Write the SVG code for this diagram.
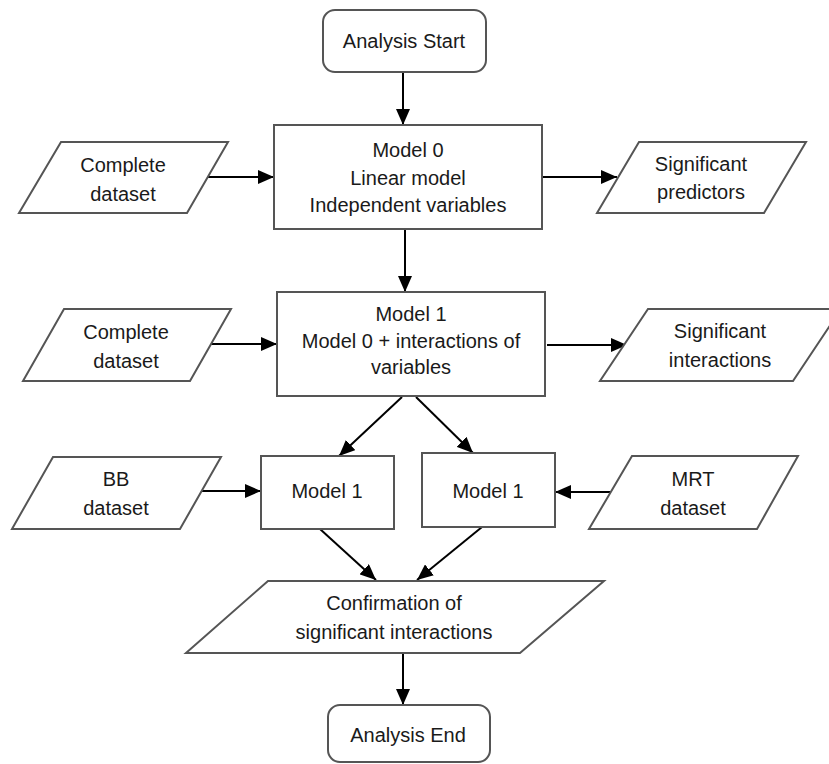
<svg xmlns="http://www.w3.org/2000/svg" width="829" height="764" viewBox="0 0 829 764">
<style>
.n{fill:#fff;stroke:#555;stroke-width:2}
.t{font-family:"Liberation Sans",Arial,sans-serif;font-size:20px;fill:#1a1a1a;text-anchor:middle}
.c{stroke:#000;stroke-width:2;fill:none;marker-end:url(#ah)}
</style>
<defs>
<marker id="ah" markerUnits="userSpaceOnUse" markerWidth="16" markerHeight="14" viewBox="0 0 16 14" refX="16" refY="7" orient="auto">
<path d="M0,0 L16,7 L0,14 Z" fill="#000"/>
</marker>
</defs>
<rect width="829" height="764" fill="#fff"/>
<g id="connectors">
<line class="c" x1="403" y1="72" x2="403" y2="125"/>
<line class="c" x1="405" y1="229" x2="405" y2="292"/>
<line class="c" x1="208" y1="177" x2="274" y2="177"/>
<line class="c" x1="542" y1="177" x2="617" y2="177"/>
<line class="c" x1="211" y1="344" x2="277" y2="344"/>
<line class="c" x1="547" y1="345" x2="627" y2="345"/>
<line class="c" x1="402" y1="397" x2="339" y2="456"/>
<line class="c" x1="416" y1="397" x2="473" y2="453"/>
<line class="c" x1="202" y1="491" x2="261" y2="491"/>
<line class="c" x1="611" y1="492" x2="555" y2="492"/>
<line class="c" x1="320" y1="529" x2="376" y2="580"/>
<line class="c" x1="482" y1="527" x2="417" y2="580"/>
<line class="c" x1="403" y1="653" x2="403" y2="705"/>
</g>
<g id="start">
<rect class="n" x="323" y="10" width="163" height="62" rx="12"/>
<text class="t" x="404" y="48">Analysis Start</text>
</g>
<g id="model0">
<rect class="n" x="274" y="125" width="268" height="104"/>
<text class="t" x="408" y="157">Model 0</text>
<text class="t" x="408" y="185">Linear model</text>
<text class="t" x="408" y="212">Independent variables</text>
</g>
<g id="complete1">
<polygon class="n" points="61,142 228,142 187,213 19,213"/>
<text class="t" x="123" y="172">Complete</text>
<text class="t" x="123" y="201">dataset</text>
</g>
<g id="sigpred">
<polygon class="n" points="639,142 806,142 764,213 597,213"/>
<text class="t" x="701" y="171">Significant</text>
<text class="t" x="701" y="199">predictors</text>
</g>
<g id="model1">
<rect class="n" x="277" y="292" width="268" height="104"/>
<text class="t" x="411" y="321">Model 1</text>
<text class="t" x="411" y="348">Model 0 + interactions of</text>
<text class="t" x="411" y="374">variables</text>
</g>
<g id="complete2">
<polygon class="n" points="64,309 231,309 190,381 23,381"/>
<text class="t" x="126" y="339">Complete</text>
<text class="t" x="126" y="368">dataset</text>
</g>
<g id="sigint">
<polygon class="n" points="648,309 841,309 793,381 600,381"/>
<text class="t" x="720" y="338">Significant</text>
<text class="t" x="720" y="367">interactions</text>
</g>
<g id="bb">
<polygon class="n" points="53,457 221,457 180,529 12,529"/>
<text class="t" x="116" y="486">BB</text>
<text class="t" x="116" y="515">dataset</text>
</g>
<g id="model1bb">
<rect class="n" x="261" y="456" width="133" height="73"/>
<text class="t" x="327" y="498">Model 1</text>
</g>
<g id="model1mrt">
<rect class="n" x="422" y="453" width="133" height="74"/>
<text class="t" x="488" y="498">Model 1</text>
</g>
<g id="mrt">
<polygon class="n" points="632,456 798,456 757,529 589,529"/>
<text class="t" x="693" y="486">MRT</text>
<text class="t" x="693" y="515">dataset</text>
</g>
<g id="confirm">
<polygon class="n" points="268,581 604,581 520,653 186,653"/>
<text class="t" x="394" y="610">Confirmation of</text>
<text class="t" x="394" y="639">significant interactions</text>
</g>
<g id="end">
<rect class="n" x="328" y="705" width="162" height="57" rx="12"/>
<text class="t" x="408" y="742">Analysis End</text>
</g>
</svg>
